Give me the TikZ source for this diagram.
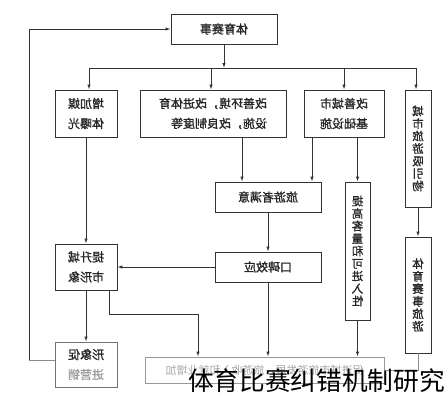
\documentclass[tikz,border=0pt]{standalone}
\usepackage{tkz-euclide}
\usepackage{tikz}
\usepackage{graphicx}
\usepackage{fontspec}
\newfontfamily\cjk[FakeBold=1.2]{Noto Sans CJK SC}
\newfontfamily\cjkmark{Noto Sans CJK SC}
\usetikzlibrary{arrows.meta}
\newcommand{\mir}[1]{\reflectbox{#1}}
\tikzset{
  box/.style={draw=black!80, line width=0.9pt, inner sep=0pt, text=black!85, font=\cjk\fontsize{12}{20}\selectfont},
  vbox/.style={box, align=center, font=\cjk\fontsize{11.5}{12.5}\selectfont},
  arr/.style={draw=black!80, line width=0.9pt, -{Latex[length=5pt,width=3.5pt]}},
  lnk/.style={draw=black!80, line width=0.9pt},
  pale/.style={draw=black!45, line width=0.8pt}
}
\begin{document}
\begin{tikzpicture}[x=1pt, y=-1pt]
    \useasboundingbox (0,0) rectangle (446,400);
    \tkzDefPoints{224/68/b0,89/68/b1,211/68/b2,344/68/b3,416/68/b4,29/29/f1,29/360/f2,242/0/c1,312/0/c2,109/314/k1,198/314/k2}
    \node[box, minimum width=106pt, minimum height=30pt] (top) at (224,29) {\mir{体育赛事}};
    \node[box, align=center, minimum width=62pt, minimum height=47pt] (media) at (86,113.5) {\mir{增加媒}\\\mir{体曝光}};
    \node[box, align=right, minimum width=146pt, minimum height=47pt] (env) at (213,113.5) {\mir{改善环境，改进体育}\\\mir{设施，改良制度等}};
    \node[box, align=center, minimum width=80pt, minimum height=47pt] (infra) at (344,113.5) {\mir{改善城市}\\\mir{基础设施}};
    \node[vbox, minimum width=26pt, minimum height=117pt] (attr) at (418,148.5) {\mir{城}\\\mir{市}\\\mir{旅}\\\mir{游}\\\mir{吸}\\\mir{引}\\\mir{物}};
    \node[box, minimum width=106pt, minimum height=30pt] (satis) at (268,197) {\mir{旅游者满意}};
    \node[vbox, minimum width=25pt, minimum height=138pt] (access) at (357.5,251) {\mir{提}\\\mir{高}\\\mir{客}\\\mir{量}\\\mir{和}\\\mir{可}\\\mir{进}\\\mir{入}\\\mir{性}};
    \node[box, minimum width=106pt, minimum height=30pt] (wom) at (268,267) {\mir{口碑效应}};
    \node[box, align=center, minimum width=62pt, minimum height=46pt] (image) at (86,267) {\mir{提升城}\\\mir{市形象}};
    \node[vbox, minimum width=26pt, minimum height=116pt] (event) at (418,295) {\mir{体}\\\mir{育}\\\mir{赛}\\\mir{事}\\\mir{旅}\\\mir{游}};
    \node[box, draw=black!55, align=center, minimum width=62pt, minimum height=45pt] (promo) at (86,364.5) {\mir{形象促}\\\textcolor{black!40}{\mir{进营销}}};
    \node[box, draw=black!40, text=black!35, font=\cjkmark\fontsize{11}{13}\selectfont, minimum width=239pt, minimum height=26pt] (gain) at (264.5,370) {\mir{促进城市旅游发展，旅游收入和就业增加}};
    \draw[arr] (top) -- (b0);
    \draw[lnk] (b1) -- (b4);
    \draw[arr] (b1) -- (b1 |- media.north);
    \draw[arr] (b2) -- (b2 |- env.north);
    \draw[arr] (b3) -- (b3 |- infra.north);
    \draw[arr] (b4) -- (b4 |- attr.north);
    \draw[arr] (env.south -| c1) -- (satis.north -| c1);
    \draw[arr] (infra.south -| c2) -- (satis.north -| c2);
    \draw[arr] (infra.south -| access) -- (access);
    \draw[arr] (attr) -- (event);
    \draw[arr] (satis) -- (wom);
    \draw[arr] (wom) -- (image);
    \draw[arr] (wom) -- (wom |- gain.north);
    \draw[arr] (access) -- (access |- gain.north);
    \draw[arr] (media) -- (image);
    \draw[arr] (image) -- (promo);
    \draw[arr] (image.south -| k1) -- (k1) -- (k2) -- (k2 |- gain.north);
    \draw[pale] (event) -- (event |- gain.east) -- (gain);
    \draw[pale] (promo.west |- f2) -- (f2);
    \draw[arr] (f2) -- (f1) -- (top);
    \node[font=\cjkmark\fontsize{25.7}{28}\selectfont, inner sep=0pt] (mark) at (316.5,381) {体育比赛纠错机制研究};
\end{tikzpicture}
\end{document}
